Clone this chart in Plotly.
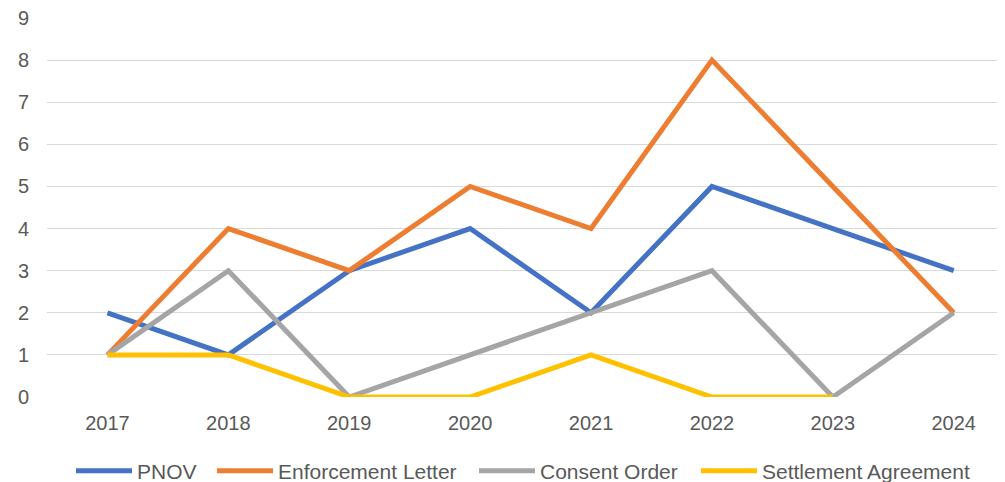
import plotly.graph_objects as go

years = ["2017", "2018", "2019", "2020", "2021", "2022", "2023", "2024"]
pnov = [2, 1, 3, 4, 2, 5, 4, 3]
enforcement_letter = [1, 4, 3, 5, 4, 8, 5, 2]
consent_order = [1, 3, 0, 1, 2, 3, 0, 2]
settlement_agreement = [1, 1, 0, 0, 1, 0, 0, None]
y_ticks = [0, 1, 2, 3, 4, 5, 6, 7, 8, 9]

series = [
    ("PNOV", pnov, "#4472C4"),
    ("Enforcement Letter", enforcement_letter, "#ED7D31"),
    ("Consent Order", consent_order, "#A5A5A5"),
    ("Settlement Agreement", settlement_agreement, "#FFC000"),
]
legend_ids = ["legend", "legend2", "legend3", "legend4"]
legend_px = [76, 217, 479, 701]

W, H = 997, 474  # page body has an 8px margin
OFF = 8

fig = go.Figure()
for (name, vals, color), lid in zip(series, legend_ids):
    fig.add_trace(go.Scatter(
        x=years, y=vals, name=name, mode="lines",
        line=dict(color=color, width=5),
        cliponaxis=False, connectgaps=False, legend=lid,
    ))

layout_legends = {}
for lid, px in zip(legend_ids, legend_px):
    layout_legends[lid] = dict(
        orientation="h", xref="container", yref="container",
        x=(px - OFF - 5) / W, xanchor="left",
        y=1 - (471 - OFF) / H, yanchor="middle",
        font=dict(size=21, color="#595959"), itemwidth=56,
        bgcolor="rgba(0,0,0,0)",
    )

fig.update_layout(
    width=W, height=H,
    margin=dict(l=47 - OFF, r=0, t=10, b=85, autoexpand=False),
    paper_bgcolor="white", plot_bgcolor="white",
    font=dict(family="Liberation Sans, Arial, sans-serif", size=20, color="#595959"),
    showlegend=True,
    xaxis=dict(
        type="category", range=[-0.5, 7.424], showgrid=False, zeroline=False,
        showline=False, ticks="", ticklabelstandoff=12, automargin=False,
    ),
    yaxis=dict(
        range=[0, 9], tickvals=y_ticks, showgrid=True, gridcolor="#D9D9D9",
        gridwidth=1.3, zeroline=False, showline=False, ticks="",
        ticklabelstandoff=17, automargin=False, ticklabeloverflow="allow",
    ),
    **layout_legends,
)

fig.write_html("out.html")
